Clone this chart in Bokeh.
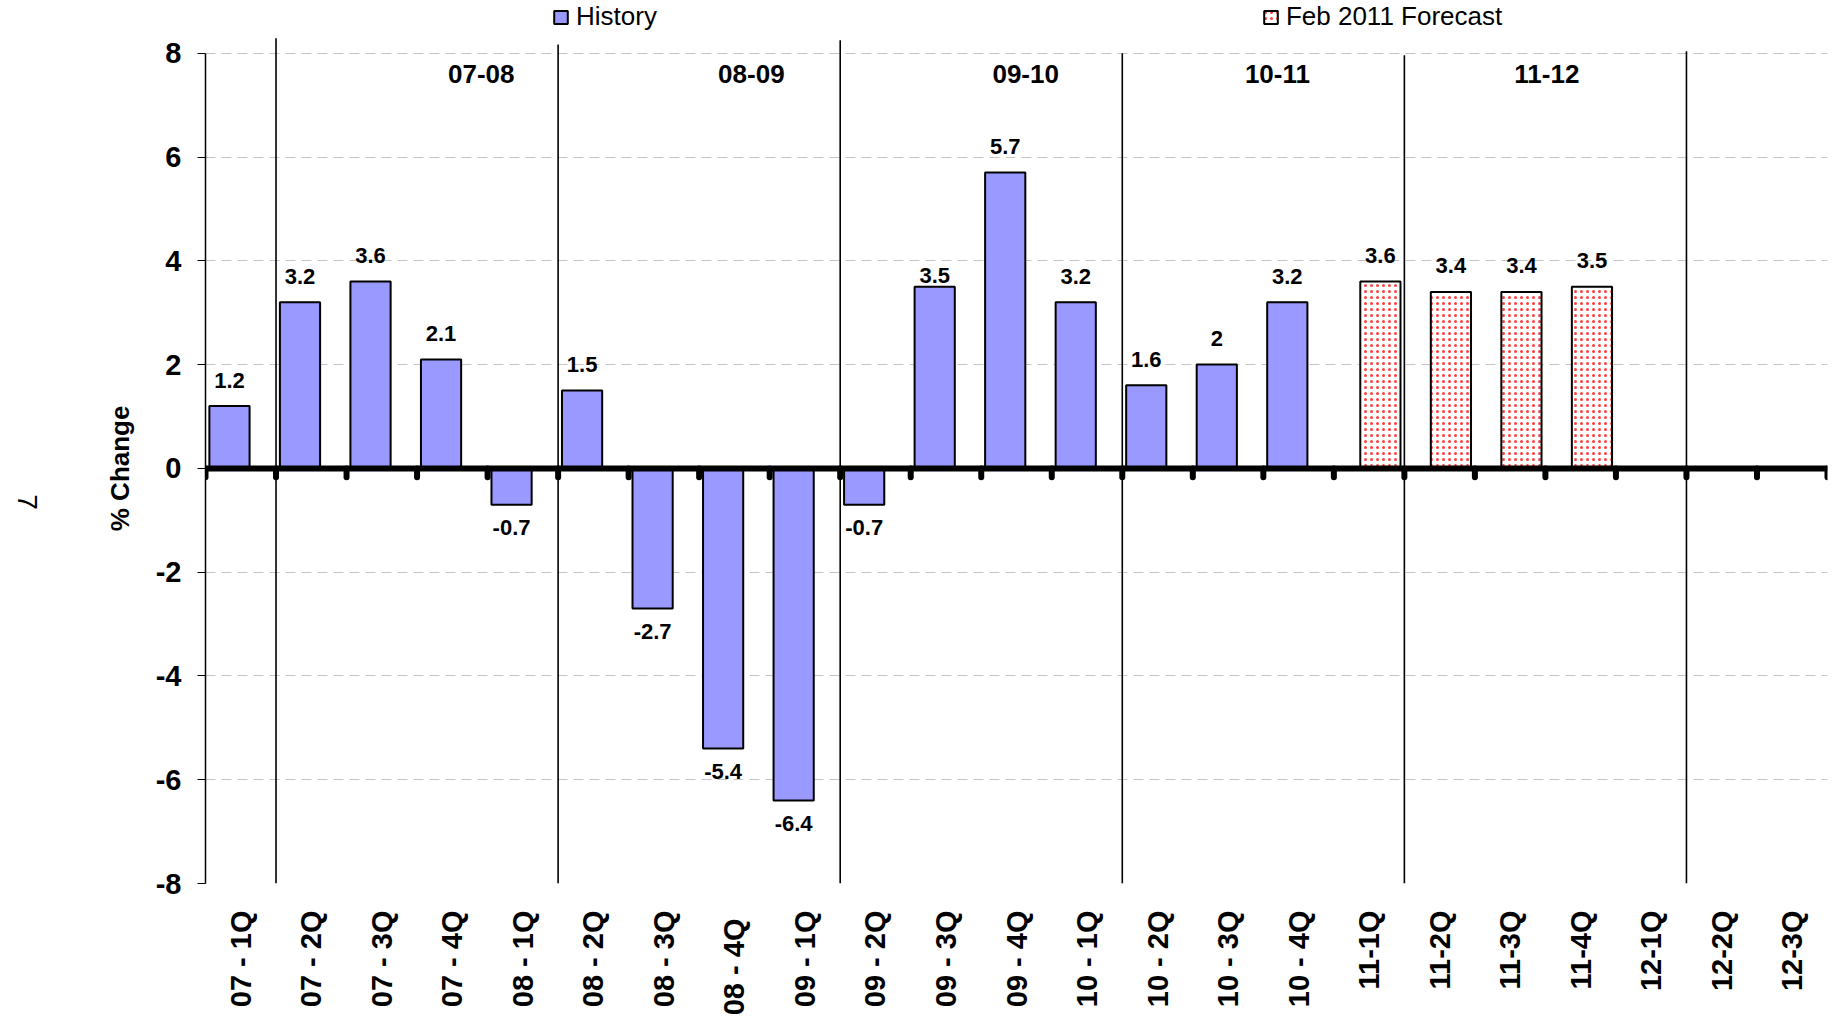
import math
from bokeh.plotting import figure
from bokeh.models import (ColumnDataSource, FactorRange, Range1d, FixedTicker,
                          Legend, LegendItem, Span, LinearAxis)
from bokeh.transform import dodge
from bokeh.core.properties import value
from bokeh.embed import file_html
from bokeh.resources import INLINE

# ---------------- data ----------------
quarters = ["07 - 1Q", "07 - 2Q", "07 - 3Q", "07 - 4Q",
            "08 - 1Q", "08 - 2Q", "08 - 3Q", "08  - 4Q",
            "09 - 1Q", "09 - 2Q", "09 - 3Q", "09 - 4Q",
            "10 - 1Q", "10 - 2Q", "10 - 3Q", "10 - 4Q",
            "11-1Q", "11-2Q", "11-3Q", "11-4Q",
            "12-1Q", "12-2Q", "12-3Q"]
history_q = quarters[:16]
history = [1.2, 3.2, 3.6, 2.1, -0.7, 1.5, -2.7, -5.4, -6.4, -0.7,
           3.5, 5.7, 3.2, 1.6, 2.0, 3.2]
forecast_q = ["11-1Q", "11-2Q", "11-3Q", "11-4Q"]
forecast = [3.6, 3.4, 3.4, 3.5]
fiscal_years = ["07-08", "08-09", "09-10", "10-11", "11-12"]
fiscal_anchor = ["07 - 4Q", "08  - 4Q", "09 - 4Q", "10 - 4Q", "11-4Q"]
fiscal_offset = [0.41, 0.24, 0.13, -0.30, -0.48]
sep_q = ["07 - 2Q", "08 - 2Q", "09 - 2Q", "10 - 2Q", "11-2Q", "12-2Q"]
sep_top = [8.29, 8.17, 8.25, 8.0, 7.96, 8.04]
y_ticks = [-8, -6, -4, -2, 0, 2, 4, 6, 8]
y_title = "% Change"
page_mark = "7"
# value labels that sit lower than the usual position (pixels)
label_nudge = {"09 - 3Q": 15}

FONT = value("Liberation Sans")
BAR_W = 0.57
DODGE = 0.16
Y0, Y1 = -8, 9.017

p = figure(x_range=FactorRange(factors=quarters),
           y_range=Range1d(Y0, Y1),
           width=1830, height=1018,
           min_border_left=205, min_border_right=3, min_border_top=0,
           min_border_bottom=120,
           output_backend="svg", toolbar_location=None)
p.outline_line_color = None
p.background_fill_color = "white"

# grid
p.xgrid.grid_line_color = None
p.ygrid.ticker = FixedTicker(ticks=y_ticks)
p.ygrid.grid_line_color = "#c4c4c4"
p.ygrid.grid_line_dash = "10 6"
p.ygrid.grid_line_width = 1

# y axis
yax = p.yaxis[0]
yax.ticker = FixedTicker(ticks=y_ticks)
yax.major_label_overrides = {t: str(t) for t in y_ticks}
yax.bounds = (-8, 8)
yax.axis_line_color = "black"
yax.axis_line_width = 1.5
yax.major_tick_out = 8
yax.major_tick_in = 0
yax.major_tick_line_color = "black"
yax.minor_tick_line_color = None
yax.major_label_text_font = "Liberation Sans"
yax.major_label_text_font_style = "bold"
yax.major_label_text_font_size = "29px"
yax.major_label_text_color = "black"
yax.major_label_standoff = 16

# extra left axes carrying the y title and the stray page mark (scaled x100)
p.extra_y_ranges = {"pct": Range1d(Y0 * 100, Y1 * 100)}
title_ax = LinearAxis(y_range_name="pct", ticker=FixedTicker(ticks=[0]),
                      major_label_overrides={0: y_title},
                      major_label_orientation="vertical",
                      axis_line_color=None, major_tick_line_color=None,
                      minor_tick_line_color=None, major_tick_out=0, major_tick_in=0,
                      major_label_standoff=17,
                      major_label_text_font="Liberation Sans",
                      major_label_text_font_style="bold",
                      major_label_text_font_size="26px",
                      major_label_text_color="black")
p.add_layout(title_ax, "left")
mark_ax = LinearAxis(y_range_name="pct", ticker=FixedTicker(ticks=[-80]),
                     major_label_overrides={-80: page_mark},
                     major_label_orientation=-math.pi / 2,
                     axis_line_color=None, major_tick_line_color=None,
                     minor_tick_line_color=None, major_tick_out=0, major_tick_in=0,
                     major_label_standoff=75,
                     major_label_text_font="Liberation Sans",
                     major_label_text_font_size="28px",
                     major_label_text_color="black")
p.add_layout(mark_ax, "left")

# x axis
p.xaxis.axis_line_color = None
p.xaxis.major_tick_line_color = None
p.xaxis.major_tick_out = 0
p.xaxis.major_tick_in = 0
p.xaxis.minor_tick_line_color = None
p.xaxis.major_label_orientation = math.pi / 2
p.xaxis.major_label_text_font = "Liberation Sans"
p.xaxis.major_label_text_font_style = "bold"
p.xaxis.major_label_text_font_size = "29px"
p.xaxis.major_label_text_color = "black"
p.xaxis.major_label_standoff = 27

# fiscal-year separators
sep_src = ColumnDataSource(dict(q=sep_q, top=sep_top, bot=[-8] * len(sep_q)))
p.segment(x0=dodge("q", -0.5, range=p.x_range), x1=dodge("q", -0.5, range=p.x_range),
          y0="bot", y1="top", source=sep_src, line_color="black", line_width=1.6)

# bars
hist_src = ColumnDataSource(dict(q=history_q, v=history))
r_hist = p.vbar(x=dodge("q", -DODGE, range=p.x_range), top="v", bottom=0, width=BAR_W,
                source=hist_src, fill_color="#9999FF", line_color="black", line_width=2)
fc_src = ColumnDataSource(dict(q=forecast_q, v=forecast))
r_fc = p.vbar(x=dodge("q", DODGE, range=p.x_range), top="v", bottom=0, width=BAR_W,
              source=fc_src, fill_color="white", line_color="black", line_width=2,
              hatch_pattern="dot", hatch_color="#ff4040", hatch_scale=6, hatch_weight=1.0)

# zero line and boundary ticks
p.add_layout(Span(location=0, dimension="width", line_color="black", line_width=6))
tick_src = ColumnDataSource(dict(q=quarters, y0=[0] * len(quarters), y1=[-0.17] * len(quarters)))
p.segment(x0=dodge("q", -0.5, range=p.x_range), x1=dodge("q", -0.5, range=p.x_range),
          y0="y0", y1="y1", source=tick_src, line_color="black", line_width=6, line_cap="round")
end_src = ColumnDataSource(dict(q=quarters[-1:], y0=[0], y1=[-0.17]))
p.segment(x0=dodge("q", 0.5, range=p.x_range), x1=dodge("q", 0.5, range=p.x_range),
          y0="y0", y1="y1", source=end_src, line_color="black", line_width=6, line_cap="round")

# value labels
for qs, vs, dd in ((history_q, history, -DODGE), (forecast_q, forecast, DODGE)):
    groups = {}
    for q, v in zip(qs, vs):
        base = -26 if v >= 0 else 23
        off = base + label_nudge.get(q, 0)
        groups.setdefault(off, []).append((q, v))
    for off, items in groups.items():
        src = ColumnDataSource(dict(q=[q for q, _ in items], v=[v for _, v in items],
                                    lbl=[f"{v:g}" for _, v in items]))
        p.text(x=dodge("q", dd, range=p.x_range), y="v", text="lbl", source=src,
               text_font=FONT, text_font_style="bold", text_font_size="22px",
               text_align="center", text_baseline="middle",
               y_offset=off, text_color="black")

# fiscal year labels
fy_x = [quarters.index(a) + 0.5 + o for a, o in zip(fiscal_anchor, fiscal_offset)]
fy_src = ColumnDataSource(dict(x=fy_x, y=[7.61] * len(fiscal_years), t=fiscal_years))
p.text(x="x", y="y", text="t", source=fy_src, text_font=FONT, text_font_style="bold",
       text_font_size="26px", text_align="center", text_baseline="middle", text_color="black")

# legend
legend = Legend(items=[LegendItem(label="History", renderers=[r_hist]),
                       LegendItem(label="Feb 2011 Forecast", renderers=[r_fc])],
                orientation="horizontal", location=(347, 851), spacing=605,
                padding=0, margin=0, border_line_color=None, background_fill_alpha=0,
                glyph_width=17, glyph_height=16, label_standoff=7,
                label_text_font="Liberation Sans", label_text_font_size="26px",
                label_text_color="black", label_height=20)
p.add_layout(legend)

open("out.html", "w").write(file_html(p, INLINE))
